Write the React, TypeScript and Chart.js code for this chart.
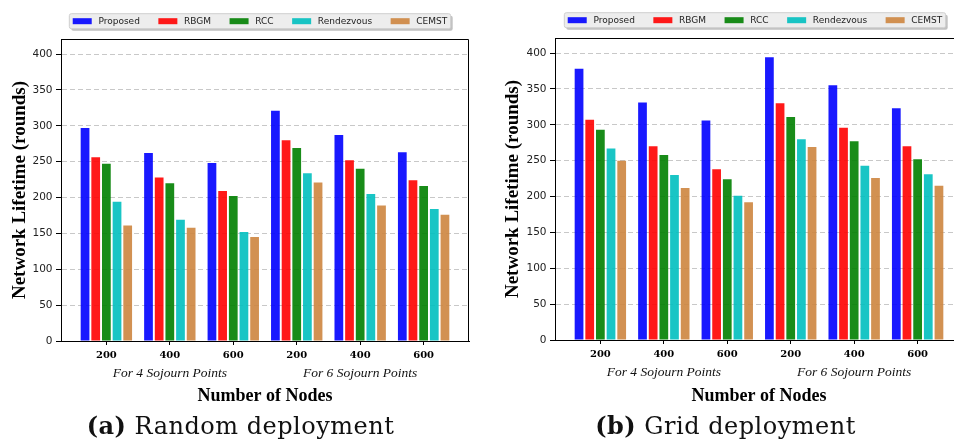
import React, { useEffect, useRef } from 'react';
import { Chart, registerables } from 'chart.js';

Chart.register(...registerables);

// ---------- data ----------
const methods = ['Proposed', 'RBGM', 'RCC', 'Rendezvous', 'CEMST'];
const methodColors = [
  'rgba(0,0,255,0.9)',
  'rgba(255,0,0,0.9)',
  'rgba(0,128,0,0.9)',
  'rgba(0,191,191,0.9)',
  'rgba(205,133,63,0.9)',
];
const nodeLabels = ['200', '400', '600', '200', '400', '600'];
const sojournLabels = ['For 4 Sojourn Points', 'For 6 Sojourn Points'];
const sojournIndex = [1, 4];
const yTicks = [0, 50, 100, 150, 200, 250, 300, 350, 400];
const yMax = 421;

// (a) Random deployment
const randomProposed = [297, 262, 248, 321, 287, 263];
const randomRBGM = [256, 228, 209, 280, 252, 224];
const randomRCC = [247, 220, 202, 269, 240, 216];
const randomRendezvous = [194, 169, 152, 234, 205, 184];
const randomCEMST = [161, 158, 145, 221, 189, 176];

// (b) Grid deployment
const gridProposed = [378, 331, 306, 394, 355, 323];
const gridRBGM = [307, 270, 238, 330, 296, 270];
const gridRCC = [293, 258, 224, 311, 277, 252];
const gridRendezvous = [267, 230, 201, 280, 243, 231];
const gridCEMST = [250, 212, 192, 269, 226, 215];

const yTitle = 'Network Lifetime (rounds)';
const xTitle = 'Number of Nodes';

const serif = '"Liberation Serif", "Times New Roman", serif';

// ---------- plugin: spines, legend, group labels ----------
const decorPlugin = {
  id: 'decor',
  afterDraw(chart: any, _args: any, opts: any) {
    const { ctx, chartArea: a } = chart;
    ctx.save();
    // top and right spines
    ctx.strokeStyle = '#000';
    ctx.lineWidth = 1;
    ctx.beginPath();
    const ty = Math.round(a.top) + 0.5;
    const rx = Math.round(a.right) - 0.5;
    ctx.moveTo(a.left, ty);
    ctx.lineTo(rx, ty);
    ctx.lineTo(rx, a.bottom);
    ctx.stroke();

    // group labels under the ticks
    const xs = chart.scales.x;
    ctx.font = 'italic 13.5px ' + serif;
    ctx.fillStyle = '#111';
    ctx.textAlign = 'center';
    ctx.textBaseline = 'middle';
    sojournLabels.forEach((t, i) => {
      ctx.fillText(t, xs.getPixelForValue(sojournIndex[i]), a.bottom + 32);
    });

    // legend
    const ds = chart.data.datasets;
    ctx.font = '9px "DejaVu Sans"';
    const boxW = 19, boxH = 6, gap = 6.7, sep = 18.5, pad = 3.4;
    const widths = ds.map((d: any) => ctx.measureText(d.label).width);
    let total = pad * 2 + sep * (ds.length - 1);
    widths.forEach((w: number) => (total += boxW + gap + w));
    const cx = (a.left + a.right) / 2 + (opts.shift || 0);
    const fx = cx - total / 2;
    const fy = a.top - 25.3;
    const fh = 15;
    const r = 2;
    const rr = (x: number, y: number, w: number, h: number) => {
      ctx.beginPath();
      ctx.moveTo(x + r, y);
      ctx.lineTo(x + w - r, y);
      ctx.quadraticCurveTo(x + w, y, x + w, y + r);
      ctx.lineTo(x + w, y + h - r);
      ctx.quadraticCurveTo(x + w, y + h, x + w - r, y + h);
      ctx.lineTo(x + r, y + h);
      ctx.quadraticCurveTo(x, y + h, x, y + h - r);
      ctx.lineTo(x, y + r);
      ctx.quadraticCurveTo(x, y, x + r, y);
      ctx.closePath();
    };
    ctx.fillStyle = 'rgba(150,150,150,0.6)';
    rr(fx + 2, fy + 2, total, fh);
    ctx.fill();
    ctx.fillStyle = '#ededed';
    rr(fx, fy, total, fh);
    ctx.fill();
    ctx.strokeStyle = '#cfcfcf';
    ctx.lineWidth = 1;
    ctx.stroke();
    let x = fx + pad;
    const cy = fy + fh / 2;
    ctx.textAlign = 'left';
    ctx.textBaseline = 'middle';
    ds.forEach((d: any, i: number) => {
      ctx.fillStyle = d.backgroundColor;
      ctx.fillRect(x, cy - boxH / 2, boxW, boxH);
      ctx.fillStyle = '#222';
      ctx.fillText(d.label, x + boxW + gap, cy + 0.5);
      x += boxW + gap + widths[i] + sep;
    });
    ctx.restore();
  },
};

type PanelProps = {
  series: number[][];
  width: number;
  yWidth: number;
  padTop: number;
  padRight: number;
  xHeight: number;
  shift: number;
};

function Panel({ series, width, yWidth, padTop, padRight, xHeight, shift }: PanelProps) {
  const ref = useRef<HTMLCanvasElement | null>(null);
  useEffect(() => {
    if (!ref.current) return;
    const chart = new Chart(ref.current, {
      type: 'bar',
      data: {
        datasets: methods.map((m, k) => ({
          label: m,
          data: series[k].map((v, i) => ({ x: i, y: v })),
          backgroundColor: methodColors[k],
          borderWidth: 0,
          categoryPercentage: 0.84,
          barPercentage: 0.82,
        })),
      },
      options: {
        responsive: false,
        animation: false,
        layout: { padding: { top: padTop, right: padRight, left: 0, bottom: 0 } },
        plugins: {
          legend: { display: false },
          tooltip: { enabled: false },
          decor: { shift },
        } as any,
        scales: {
          x: {
            type: 'linear',
            min: -0.715,
            max: 5.715,
            offset: false,
            afterBuildTicks: (s: any) => {
              s.ticks = nodeLabels.map((_, i) => ({ value: i }));
            },
            afterFit: (s: any) => {
              s.height = xHeight;
            },
            grid: {
              display: true,
              drawOnChartArea: false,
              drawTicks: true,
              tickLength: 4,
              tickColor: '#000',
              tickWidth: 1,
              offset: false,
            },
            border: { color: '#000', width: 1 },
            ticks: {
              autoSkip: false,
              maxRotation: 0,
              padding: 4,
              color: '#000',
              font: { family: '"DejaVu Serif"', weight: 'bold', size: 10 },
              callback: (_v: any, i: number) => nodeLabels[i],
            },
            title: {
              display: true,
              text: xTitle,
              color: '#000',
              font: { family: serif, weight: 'bold', size: 18 },
              padding: { top: 0, bottom: 33 },
            },
          } as any,
          y: {
            min: 0,
            max: yMax,
            afterBuildTicks: (s: any) => {
              s.ticks = yTicks.map((v) => ({ value: v }));
            },
            afterFit: (s: any) => {
              s.width = yWidth;
            },
            grid: {
              color: '#c8c8c8',
              lineWidth: 1,
              drawTicks: true,
              tickLength: 5,
              tickColor: '#000',
              tickWidth: 1,
            },
            border: { color: '#000', width: 1, dash: [5, 3] },
            ticks: {
              color: '#222',
              padding: 3.5,
              font: { family: '"DejaVu Sans"', size: 10.5 },
            },
            title: {
              display: true,
              text: yTitle,
              color: '#000',
              font: { family: serif, weight: 'bold', size: 19 },
              padding: { top: 8.5, bottom: 0 },
            },
          } as any,
        },
      },
      plugins: [decorPlugin],
    });
    return () => chart.destroy();
  }, []);
  return <canvas ref={ref} width={width} height={440} style={{ width, height: 440, display: 'block' }} />;
}

const captionStyle: React.CSSProperties = {
  position: 'absolute',
  top: 414,
  fontFamily: '"DejaVu Serif", serif',
  fontSize: 24,
  lineHeight: '24px',
  letterSpacing: '0.5px',
  textAlign: 'center',
  color: '#111',
  whiteSpace: 'nowrap',
};

export default function App() {
  return (
    <div
      style={{
        position: 'fixed',
        left: 0,
        top: 0,
        width: 954,
        height: 440,
        overflow: 'hidden',
        background: '#fff',
      }}
    >
      <div style={{ position: 'absolute', left: 0, top: 0 }}>
        <Panel
          series={[randomProposed, randomRBGM, randomRCC, randomRendezvous, randomCEMST]}
          width={477}
          yWidth={61}
          padTop={39}
          padRight={8}
          xHeight={99}
          shift={-5}
        />
      </div>
      <div style={{ position: 'absolute', left: 493, top: 0 }}>
        <Panel
          series={[gridProposed, gridRBGM, gridRCC, gridRendezvous, gridCEMST]}
          width={480}
          yWidth={62}
          padTop={38}
          padRight={10}
          xHeight={100}
          shift={-4}
        />
      </div>
      <div style={{ ...captionStyle, left: 0, width: 481 }}>
        <b>(a)</b> Random deployment
      </div>
      <div style={{ ...captionStyle, left: 477, width: 497 }}>
        <b>(b)</b> Grid deployment
      </div>
    </div>
  );
}
